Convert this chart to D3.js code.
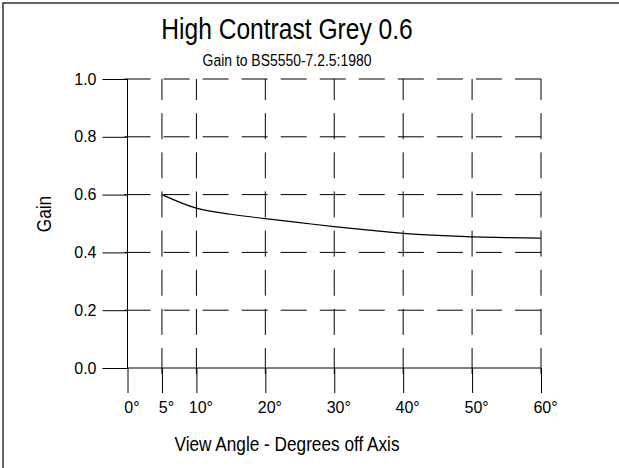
<!DOCTYPE html>
<html>
<head>
<meta charset="utf-8">
<script src="https://cdn.jsdelivr.net/npm/d3@7"></script>
<style>
  html, body { margin: 0; padding: 0; background: #fff; }
  svg { display: block; font-family: "Liberation Sans", Arial, sans-serif; }
</style>
</head>
<body>
<svg id="chart" width="619" height="468"></svg>
<script>
// ---- data ----
const angles = [5, 10, 15, 20, 25, 30, 35, 40, 45, 50, 55, 60];
const gains  = [0.600, 0.553, 0.532, 0.517, 0.503, 0.489, 0.477, 0.466, 0.459, 0.454, 0.451, 0.449];
const xTicks = [0, 5, 10, 20, 30, 40, 50, 60];
const yTicks = [0.0, 0.2, 0.4, 0.6, 0.8, 1.0];
const titleText = "High Contrast Grey 0.6";
const subtitleText = "Gain to BS5550-7.2.5:1980";
const xTitle = "View Angle - Degrees off Axis";
const yTitle = "Gain";

const svg = d3.select("#chart");
const x = d3.scaleLinear().domain([0, 60]).range([127.5, 541]);
const y = d3.scaleLinear().domain([0, 1]).range([368, 79]);
const tickLen = 25;
const narrow = 0.82;

// frame
svg.append("rect").attr("x", 3).attr("y", 3).attr("width", 640).attr("height", 490)
  .attr("fill", "none").attr("stroke", "#333").attr("stroke-width", 1.5);

// horizontal grid (dashed)
svg.append("g").selectAll("line").data(yTicks.filter(d => d > 0)).join("line")
  .attr("x1", x(0) - 3).attr("x2", x(60))
  .attr("y1", d => y(d)).attr("y2", d => y(d))
  .attr("stroke", "#000").attr("stroke-width", 1)
  .attr("stroke-dasharray", "26,13.05");
// zero line solid
svg.append("line").attr("x1", x(0)).attr("x2", x(60)).attr("y1", y(0)).attr("y2", y(0))
  .attr("stroke", "#000").attr("stroke-width", 1);

// vertical grid (dashed, drawn upward)
svg.append("g").selectAll("line").data(xTicks.filter(d => d > 0)).join("line")
  .attr("x1", d => x(d)).attr("x2", d => x(d))
  .attr("y1", y(0) + 6).attr("y2", y(1))
  .attr("stroke", "#000").attr("stroke-width", 1)
  .attr("stroke-dasharray", "26,13.14");
// zero-angle axis solid
svg.append("line").attr("x1", x(0)).attr("x2", x(0)).attr("y1", y(0)).attr("y2", y(1))
  .attr("stroke", "#000").attr("stroke-width", 1);

// axes
const yAxis = svg.append("g").attr("transform", `translate(${x(0)},0)`)
  .call(d3.axisLeft(y).tickValues(yTicks).tickFormat(d3.format(".1f")).tickSize(tickLen).tickPadding(6));
const xAxis = svg.append("g").attr("transform", `translate(0,${y(0)})`)
  .call(d3.axisBottom(x).tickValues(xTicks).tickFormat(d => d + "°").tickSize(tickLen).tickPadding(9));
[yAxis, xAxis].forEach(g => {
  g.select(".domain").remove();
  g.selectAll(".tick line").attr("stroke", "#000").attr("stroke-width", 1);
  g.selectAll(".tick text").attr("fill", "#000").style("font-size", "16px")
    .style("font-family", '"Liberation Sans", Arial, sans-serif');
});
xAxis.selectAll(".tick text").attr("dx", 4);

// curve
const line = d3.line().x((d, i) => x(angles[i])).y(d => y(d)).curve(d3.curveMonotoneX);
svg.append("path").datum(gains).attr("d", line)
  .attr("fill", "none").attr("stroke", "#000").attr("stroke-width", 1.2);

// titles (narrow lettering)
function label(tx, ty, rot, size, txt) {
  svg.append("text")
    .attr("transform", `translate(${tx},${ty}) rotate(${rot}) scale(${narrow},1)`)
    .attr("text-anchor", "middle").style("font-size", size + "px").text(txt);
}
label(287, 39, 0, 30, titleText);
label(287, 66, 0, 17, subtitleText);
label(287, 451, 0, 21, xTitle);
label(51, 214, -90, 21, yTitle);
</script>
</body>
</html>
